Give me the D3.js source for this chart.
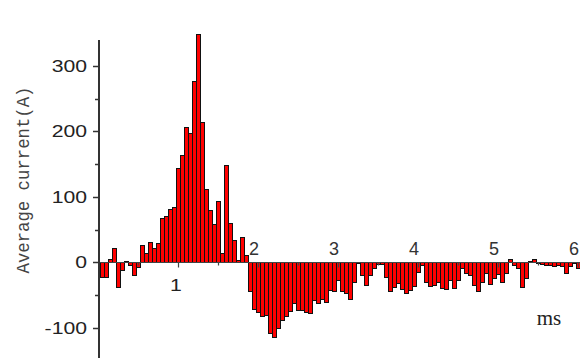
<!DOCTYPE html>
<html>
<head>
<meta charset="utf-8">
<script src="https://cdn.jsdelivr.net/npm/d3@7"></script>
<style>
  html, body { margin: 0; padding: 0; background: #fff; }
  svg { display: block; }
</style>
</head>
<body>
<svg id="chart" width="580" height="358"></svg>
<script>
// Histogram bin width (ms); bin k is centred on k * binWidth
const binWidth = 0.05;

// Average current (A) per 0.05 ms bin, bins 1..120
const current = [
  -22, -22, 6, 22, -37, -11, 2, -4, -19, -7,
  27, 15, 32, 22, 29, 68, 71, 82, 84, 144,
  164, 207, 198, 276, 348, 214, 112, 80, 59, 93,
  15, 149, 60, 34, 4, 39, 11, -44, -71, -76,
  -82, -80, -107, -114, -100, -88, -82, -74, -62, -72,
  -72, -75, -77, -57, -62, -55, -60, -42, -44, -27,
  -44, -46, -56, -29, -1, -19, -34, -19, -9, -2,
  -2, -22, -44, -37, -32, -41, -46, -42, -36, -14,
  -4, -29, -36, -35, -29, -39, -41, -27, -39, -26,
  -9, -16, -19, -34, -43, -29, -16, -33, -24, -17,
  -30, -16, 6, -4, -9, -37, -24, 3, 5, -1,
  -3, -4, -4, -5, -4, -6, -16, -5, 1, -8
];

const yMajor = [-100, 0, 100, 200, 300];
const yMinor = [-50, 50, 150, 250];
const xMajor = [1, 2, 3, 4, 5, 6];
const xMinor = [0.5, 1.5, 2.5, 3.5, 4.5, 5.5];
const xLabelBelow = [1];
const xLabelAbove = [2, 3, 4, 5, 6];
const yTitle = "Average current(A)";
const xUnit = "ms";

const svg = d3.select("#chart");

const x = d3.scaleLinear().domain([0, 6.025]).range([98, 580]);
const y = d3.scaleLinear().domain([-145.6, 339.2]).range([358, 40]);

const bins = current.map((v, i) => ({ t: (i + 1) * binWidth, v }));

// Bars
svg.append("g")
  .selectAll("rect")
  .data(bins)
  .join("rect")
  .attr("x", d => Math.round(x(d.t - binWidth / 2)) + 0.5)
  .attr("width", d => Math.round(x(d.t + binWidth / 2)) - Math.round(x(d.t - binWidth / 2)))
  .attr("y", d => Math.round(y(Math.max(0, d.v))) + 0.5)
  .attr("height", d => Math.max(1, Math.abs(Math.round(y(d.v)) - Math.round(y(0)))))
  .attr("fill", "#ff0000")
  .attr("stroke", "#111")
  .attr("stroke-width", 1);

// X axis (zero line) with downward ticks
const y0 = Math.round(y(0)) + 0.5;
const xAxis = svg.append("g").attr("stroke", "#444");
xAxis.append("line")
  .attr("x1", x(0)).attr("x2", 580)
  .attr("y1", y0).attr("y2", y0)
  .attr("stroke-width", 1.2);
xAxis.selectAll("line.maj")
  .data(xMajor).join("line").attr("class", "maj")
  .attr("x1", d => Math.round(x(d)) + 0.5).attr("x2", d => Math.round(x(d)) + 0.5)
  .attr("y1", y0).attr("y2", y0 + 5).attr("stroke-width", 1.2);
xAxis.selectAll("line.min")
  .data(xMinor).join("line").attr("class", "min")
  .attr("x1", d => Math.round(x(d)) + 0.5).attr("x2", d => Math.round(x(d)) + 0.5)
  .attr("y1", y0).attr("y2", y0 + 3).attr("stroke-width", 1.2);

// Y axis
const yAxis = svg.append("g").attr("stroke", "#333");
yAxis.append("line")
  .attr("x1", 99).attr("x2", 99)
  .attr("y1", 40).attr("y2", 358)
  .attr("stroke-width", 2);
yAxis.selectAll("line.maj")
  .data(yMajor).join("line").attr("class", "maj")
  .attr("x1", 93).attr("x2", 98)
  .attr("y1", d => Math.round(y(d)) + 0.5).attr("y2", d => Math.round(y(d)) + 0.5)
  .attr("stroke-width", 1.5);
yAxis.selectAll("line.min")
  .data(yMinor).join("line").attr("class", "min")
  .attr("x1", 95).attr("x2", 98)
  .attr("y1", d => Math.round(y(d)) + 0.5).attr("y2", d => Math.round(y(d)) + 0.5)
  .attr("stroke-width", 1.5);

// Y tick labels (wide sans digits)
svg.append("g")
  .selectAll("text")
  .data(yMajor).join("text")
  .attr("transform", d => `translate(87,${y(d) + 6}) scale(1.3,1)`)
  .attr("text-anchor", "end")
  .attr("font-family", "Liberation Sans, Arial, sans-serif")
  .attr("font-size", 16.3)
  .attr("fill", "#222")
  .text(d => d);

// X tick label under the axis
svg.append("g")
  .selectAll("text")
  .data(xLabelBelow).join("text")
  .attr("transform", d => `translate(${x(d) - 2},291) scale(1.3,1)`)
  .attr("text-anchor", "middle")
  .attr("font-family", "Liberation Sans, Arial, sans-serif")
  .attr("font-size", 16.3)
  .attr("fill", "#222")
  .text(d => d);

// X tick labels above the axis
svg.append("g")
  .selectAll("text")
  .data(xLabelAbove).join("text")
  .attr("x", d => x(d) - 4)
  .attr("y", 255)
  .attr("text-anchor", "middle")
  .attr("font-family", "Liberation Sans, Arial, sans-serif")
  .attr("font-size", 18)
  .attr("fill", "#333")
  .text(d => d);

// Unit label
svg.append("text")
  .attr("x", 549).attr("y", 325)
  .attr("text-anchor", "middle")
  .attr("font-family", "Liberation Serif, Times New Roman, serif")
  .attr("font-size", 21)
  .attr("fill", "#222")
  .text(xUnit);

// Y axis title
svg.append("text")
  .attr("transform", "translate(29,180) rotate(-90)")
  .attr("text-anchor", "middle")
  .attr("font-family", "Courier New, Liberation Mono, monospace")
  .attr("font-size", 18)
  .attr("textLength", 187)
  .attr("lengthAdjust", "spacingAndGlyphs")
  .attr("fill", "#444")
  .text(yTitle);
</script>
</body>
</html>
